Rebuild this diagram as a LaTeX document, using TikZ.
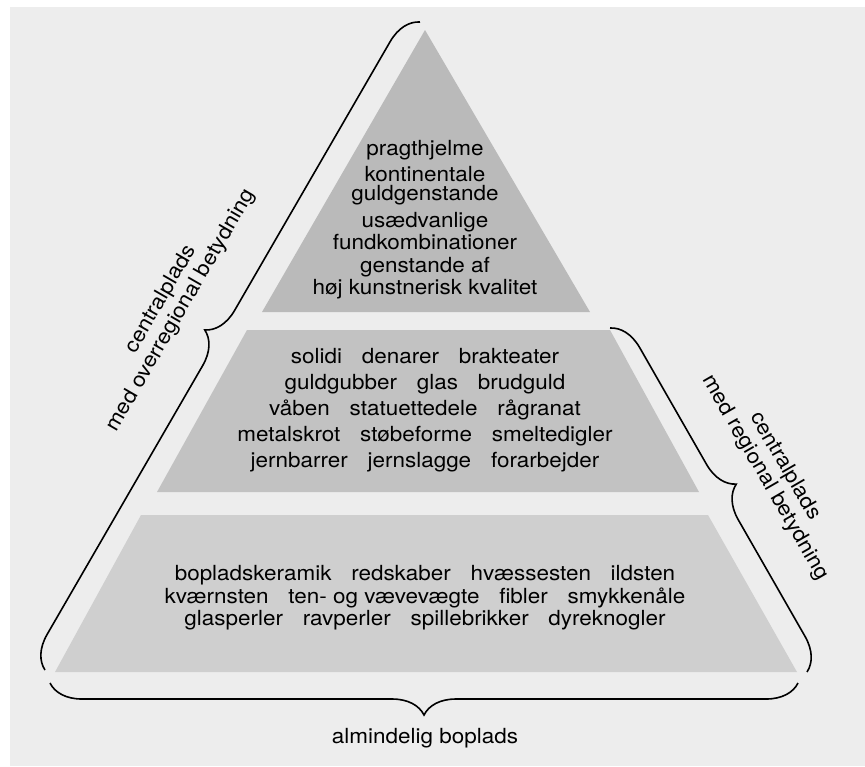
\documentclass[tikz,border=0pt]{standalone}
\usepackage{fontspec}
\setmainfont[FakeStretch=1.08]{TeX Gyre Heros}
\usetikzlibrary{positioning,calc,decorations.pathreplacing}
\newcommand{\wsep}{\hspace{0.95em}}

\begin{document}
\begin{tikzpicture}[%
    x=0.5pt, y=-0.5pt,          % one unit is one pixel of the scan, y downwards
    every node/.style={inner sep=0pt, font=\fontsize{10.4}{9.5}\selectfont},
    ]

\tikzset{
    page/.style={fill=black!7},
    tier/.style={draw=none},
    finds/.style={align=center},
    loose/.style={font=\fontsize{10.4}{13}\selectfont},
    low/.style={font=\fontsize{10.4}{11.3}\selectfont},
    % Braces round the pyramid
    brc/.style={decorate, decoration={brace, amplitude=16pt}, line width=0.8pt},
    bracetext/.style={align=center, font=\fontsize{10.4}{11.5}\selectfont},
}

%% Page
\useasboundingbox (0,0) rectangle (865,766);
\fill[white] (0,0) rectangle (865,766);
\fill[page] (10,7) rectangle (865,766);

%% Tiers
\coordinate (apex) at (425,30);
\fill[tier, fill=black!27] (apex) -- (590,312) -- (262,312) -- cycle;
\fill[tier, fill=black!24] (247,330) -- (610,330) -- (699,492) -- (157,492) -- cycle;
\fill[tier, fill=black!19] (141,515) -- (708,515) -- (797,672) -- (55,672) -- cycle;

%% Top tier
\node [finds] (prag) at (425,150) {pragthjelme};
\node [finds] (kont) at (425,186) {kontinentale\\guldgenstande};
\node [finds] (usaed) at (425,231) {usædvanlige\\fundkombinationer};
\node [finds] (genst) at (425,278) {genstande af\\høj kunstnerisk kvalitet};

%% Middle tier
\node [finds, loose] (mid) at (425,410) {solidi\wsep denarer\wsep brakteater\\
    guldgubber\wsep glas\wsep brudguld\\
    våben\wsep statuettedele\wsep rågranat\\
    metalskrot\wsep støbeforme\wsep smeltedigler\\
    jernbarrer\wsep jernslagge\wsep forarbejder};

%% Lower tier
\node [finds, low] (bottom) at (425,598) {bopladskeramik\wsep redskaber\wsep hvæssesten\wsep ildsten\\
    kværnsten\wsep ten- og vævevægte\wsep fibler\wsep smykkenåle\\
    glasperler\wsep ravperler\wsep spillebrikker\wsep dyreknogler};

%% Braces
\coordinate (ltop) at (420,22);
\coordinate (lbot) at (45,670);
\coordinate (rtop) at (610,328);
\coordinate (rbot) at (807,672);
\coordinate (bleft) at (50,683);
\coordinate (bright) at (798,683);
    \draw [brc] (lbot) -- (ltop);
    \draw [brc] (rtop) -- (rbot);
    \draw [brc] (bright) -- (bleft);

\node [bracetext, rotate=60] (over) at (171,305) {centralplads\\med overregional betydning};
\node [bracetext, rotate=-60] (reg) at (775,472) {centralplads\\med regional betydning};
\node (alm) at (425,738) {almindelig boplads};
\end{tikzpicture}
\end{document}
